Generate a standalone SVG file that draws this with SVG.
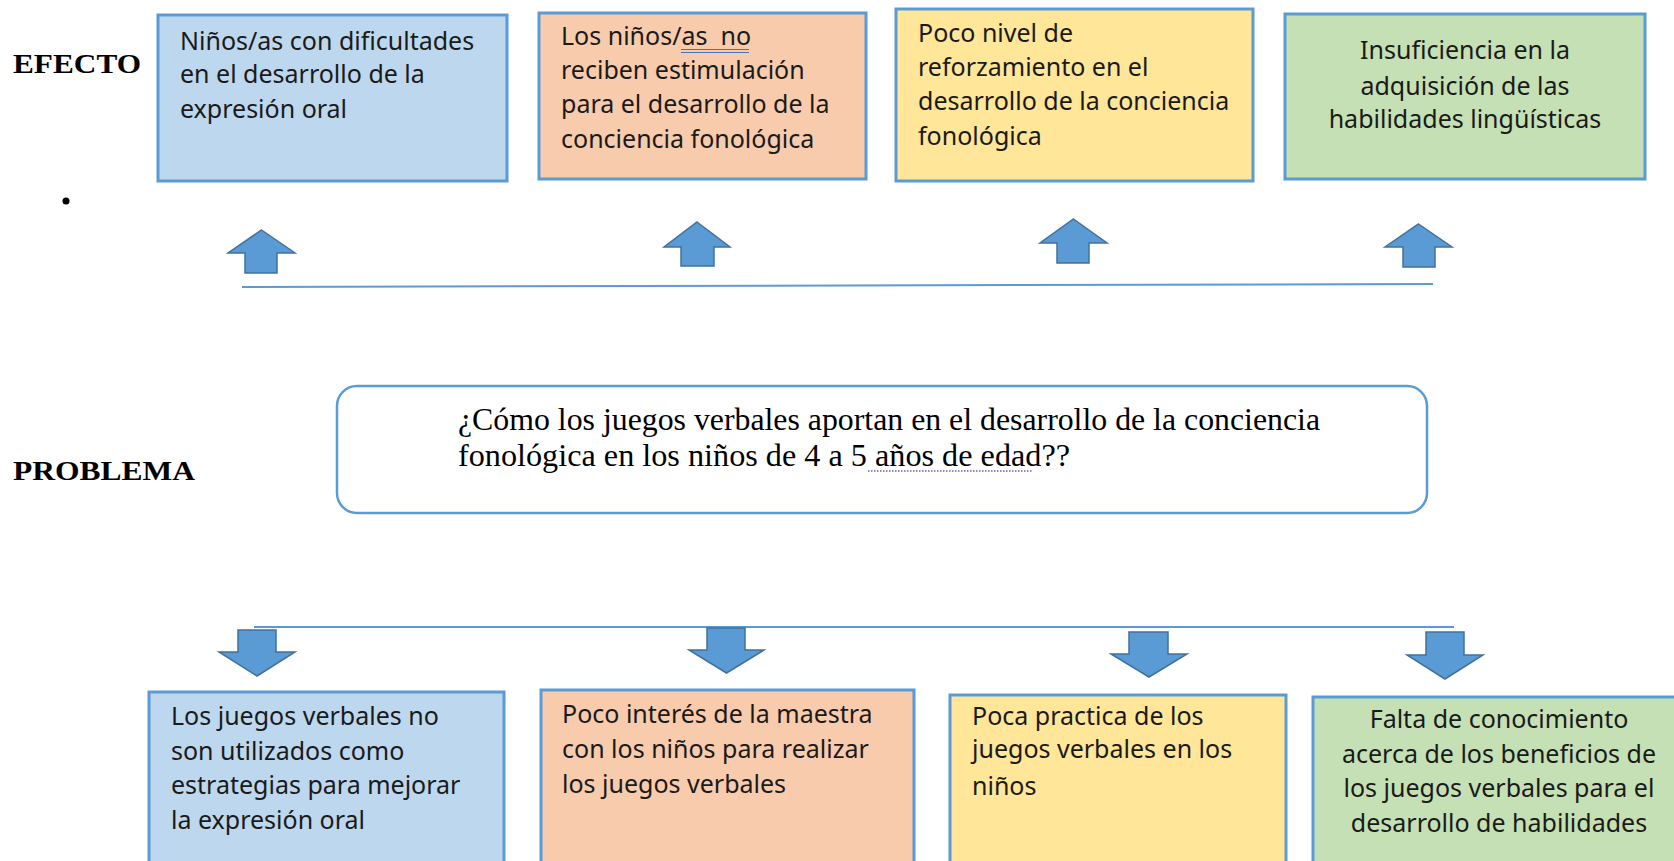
<svg xmlns="http://www.w3.org/2000/svg" width="1674" height="861" viewBox="0 0 1674 861">
<style>
.bx{stroke:#5b9bd5;stroke-width:3}
.blue{fill:#bdd7ee}.orange{fill:#f8cbad}.yellow{fill:#ffe699}.green{fill:#c5e0b4}
.t{font-family:"Noto Sans","Liberation Sans",sans-serif;font-size:25px;fill:#1a1a1a}
.c{text-anchor:middle}
.lbl{font-family:"Liberation Serif","Times New Roman",serif;font-weight:bold;font-size:27px;fill:#000}
.q{font-family:"Liberation Serif","Times New Roman",serif;font-size:32px;fill:#000}
.arr{fill:#5b9bd5;stroke:#41719c;stroke-width:1.5;stroke-linejoin:miter}
.ln{stroke:#5b9bd5;stroke-width:2;fill:none}
</style>
<rect width="1674" height="861" fill="#fff"/>
<g id="labels">
<text class="lbl" x="13" y="73" textLength="128" lengthAdjust="spacingAndGlyphs">EFECTO</text>
<text class="lbl" x="13" y="480" textLength="182" lengthAdjust="spacingAndGlyphs">PROBLEMA</text>
<circle cx="66" cy="201" r="3.5" fill="#000"/>
</g>
<g id="connectors">
<line class="ln" x1="242" y1="287" x2="1433" y2="284"/>
<line class="ln" x1="254" y1="627" x2="1454" y2="627"/>
<polygon class="arr" points="261.5,230 295,253 277,253 277,273 245,273 245,253 228,253"/>
<polygon class="arr" points="697,222 730,247 714,247 714,266 681,266 681,247 664,247"/>
<polygon class="arr" points="1073.5,219 1107,243 1089,243 1089,263 1057,263 1057,243 1040,243"/>
<polygon class="arr" points="1418.5,224 1452,247 1435,247 1435,267 1403,267 1403,247 1385,247"/>
<polygon class="arr" points="238,630 276,630 276,652 295,652 257,676 219,652 238,652"/>
<polygon class="arr" points="707,628 745,628 745,650 764,650 726.5,673 689,650 707,650"/>
<polygon class="arr" points="1129,632 1168,632 1168,654 1187,654 1149,677 1111,654 1129,654"/>
<polygon class="arr" points="1426,632 1464,632 1464,655 1483,655 1445,679 1407,655 1426,655"/>
</g>
<g id="efecto1">
<rect class="bx blue" x="158" y="15" width="349" height="166"/>
<text class="t" x="180" y="50">Niños/as con dificultades</text>
<text class="t" x="180" y="83">en el desarrollo de la</text>
<text class="t" x="180" y="118">expresión oral</text>
</g>
<g id="efecto2">
<rect class="bx orange" x="539" y="13" width="327" height="166"/>
<text class="t" x="561" y="45">Los niños/as&#160; no</text>
<text class="t" x="561" y="79">reciben estimulación</text>
<text class="t" x="561" y="113">para el desarrollo de la</text>
<text class="t" x="561" y="148">conciencia fonológica</text>
<line x1="681" y1="49.5" x2="749" y2="49.5" stroke="#4472c4" stroke-width="1.2"/>
<line x1="681" y1="52.5" x2="749" y2="52.5" stroke="#4472c4" stroke-width="1.2"/>
</g>
<g id="efecto3">
<rect class="bx yellow" x="896" y="9" width="357" height="172"/>
<text class="t" x="918" y="42">Poco nivel de</text>
<text class="t" x="918" y="76">reforzamiento en el</text>
<text class="t" x="918" y="110">desarrollo de la conciencia</text>
<text class="t" x="918" y="145">fonológica</text>
</g>
<g id="efecto4">
<rect class="bx green" x="1285" y="14" width="360" height="165"/>
<text class="t c" x="1465" y="59">Insuficiencia en la</text>
<text class="t c" x="1465" y="95">adquisición de las</text>
<text class="t c" x="1465" y="128">habilidades lingüísticas</text>
</g>
<g id="problema">
<rect x="337" y="386" width="1090" height="127" rx="20" ry="20" fill="#fff" stroke="#5b9bd5" stroke-width="2.5"/>
<text class="q" x="458" y="430" textLength="862" lengthAdjust="spacingAndGlyphs">¿Cómo los juegos verbales aportan en el desarrollo de la conciencia</text>
<text class="q" x="458" y="466" textLength="612" lengthAdjust="spacingAndGlyphs">fonológica en los niños de 4 a 5 años de edad??</text>
<line x1="868" y1="471" x2="1033" y2="471" stroke="#6a5acd" stroke-width="1.5" stroke-dasharray="1.5,1.5"/>
</g>
<g id="causa1">
<rect class="bx blue" x="149" y="692" width="355" height="190"/>
<text class="t" x="171" y="725">Los juegos verbales no</text>
<text class="t" x="171" y="760">son utilizados como</text>
<text class="t" x="171" y="794">estrategias para mejorar</text>
<text class="t" x="171" y="829">la expresión oral</text>
</g>
<g id="causa2">
<rect class="bx orange" x="541" y="690" width="373" height="190"/>
<text class="t" x="562" y="723">Poco interés de la maestra</text>
<text class="t" x="562" y="758">con los niños para realizar</text>
<text class="t" x="562" y="793">los juegos verbales</text>
</g>
<g id="causa3">
<rect class="bx yellow" x="950" y="695" width="336" height="190"/>
<text class="t" x="972" y="725">Poca practica de los</text>
<text class="t" x="972" y="758">juegos verbales en los</text>
<text class="t" x="972" y="795">niños</text>
</g>
<g id="causa4">
<rect class="bx green" x="1313" y="697" width="380" height="190"/>
<text class="t c" x="1499" y="728">Falta de conocimiento</text>
<text class="t c" x="1499" y="763">acerca de los beneficios de</text>
<text class="t c" x="1499" y="797">los juegos verbales para el</text>
<text class="t c" x="1499" y="832">desarrollo de habilidades</text>
</g>
</svg>
